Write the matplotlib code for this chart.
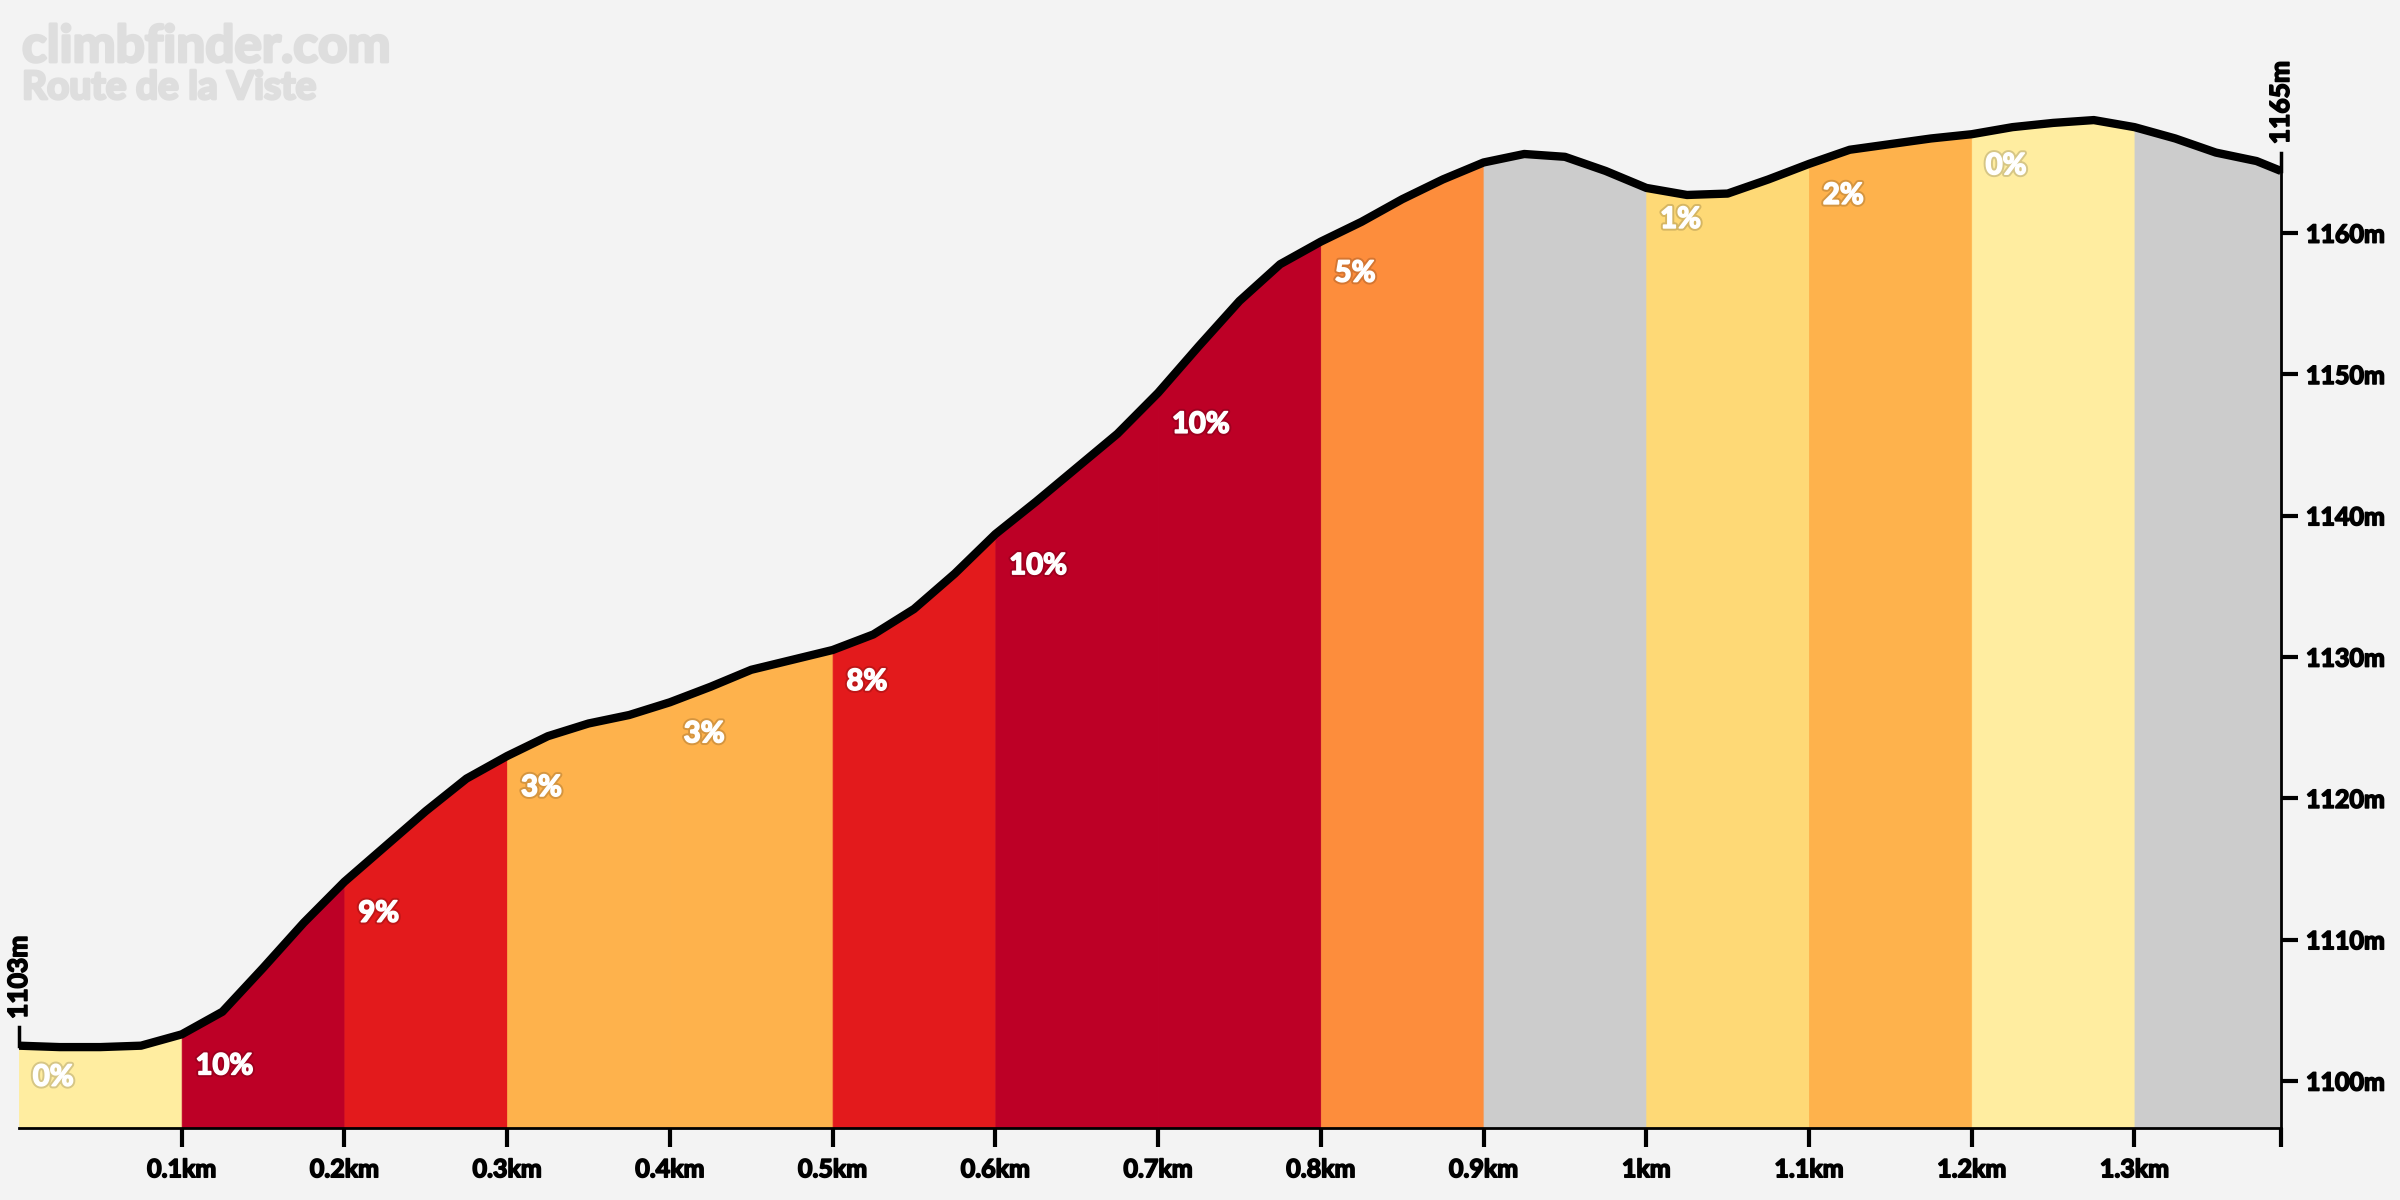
import numpy as np
import matplotlib
matplotlib.use("Agg")
import matplotlib.pyplot as plt
import matplotlib.patheffects as pe

# profile (km, m)
dist_km = [0, 0.025, 0.05, 0.075, 0.1, 0.125, 0.15, 0.175, 0.2, 0.225, 0.25, 0.275,
           0.3, 0.325, 0.35, 0.375, 0.4, 0.425, 0.45, 0.475, 0.5, 0.525, 0.55, 0.575,
           0.6, 0.625, 0.65, 0.675, 0.7, 0.725, 0.75, 0.775, 0.8, 0.825, 0.85, 0.875,
           0.9, 0.925, 0.95, 0.975, 1.0, 1.025, 1.05, 1.075, 1.1, 1.125, 1.15, 1.175,
           1.2, 1.225, 1.25, 1.275, 1.3, 1.325, 1.35, 1.375, 1.39]
elev_m = [1102.5, 1102.4, 1102.4, 1102.5, 1103.3, 1104.9, 1108.0, 1111.2, 1114.1, 1116.6,
          1119.1, 1121.4, 1123.0, 1124.4, 1125.3, 1125.9, 1126.8, 1127.9, 1129.1, 1129.8,
          1130.5, 1131.6, 1133.4, 1135.9, 1138.7, 1141.0, 1143.4, 1145.8, 1148.7, 1152.0,
          1155.2, 1157.8, 1159.4, 1160.8, 1162.4, 1163.8, 1165.0, 1165.6, 1165.4, 1164.4,
          1163.2, 1162.7, 1162.8, 1163.8, 1164.9, 1165.9, 1166.3, 1166.7, 1167.0, 1167.5,
          1167.8, 1168.0, 1167.5, 1166.7, 1165.7, 1165.1, 1164.4]

# 100 m sections and their gradient (%)
seg_start = [0.0, 0.1, 0.2, 0.3, 0.4, 0.5, 0.6, 0.7, 0.8, 0.9, 1.0, 1.1, 1.2, 1.3]
seg_end = [0.1, 0.2, 0.3, 0.4, 0.5, 0.6, 0.7, 0.8, 0.9, 1.0, 1.1, 1.2, 1.3, 1.39]
seg_grade = [0, 10, 9, 3, 3, 8, 10, 10, 5, -2, 1, 2, 0, -3]

xtick_pos = [0.1, 0.2, 0.3, 0.4, 0.5, 0.6, 0.7, 0.8, 0.9, 1.0, 1.1, 1.2, 1.3, 1.39]
xtick_lab = ["0.1km", "0.2km", "0.3km", "0.4km", "0.5km", "0.6km", "0.7km", "0.8km",
             "0.9km", "1km", "1.1km", "1.2km", "1.3km", ""]
ytick_pos = [1100, 1110, 1120, 1130, 1140, 1150, 1160]
ytick_lab = ["1100m", "1110m", "1120m", "1130m", "1140m", "1150m", "1160m"]

title = "climbfinder.com"
subtitle = "Route de la Viste"
start_label = "1103m"
end_label = "1165m"

def grade_color(g):
    if g < 0:
        return "#cccccc"
    if g < 1:
        return "#ffeda0"
    if g < 2:
        return "#fed976"
    if g < 4:
        return "#feb24c"
    if g < 6:
        return "#fd8d3c"
    if g < 8:
        return "#fc4e2a"
    if g < 10:
        return "#e31a1c"
    return "#bd0026"

def heavy(color, lw=1.2):
    # thicken the bold font a little, the original uses a black weight
    return [pe.Stroke(linewidth=lw, foreground=color), pe.Normal()]

plt.rcParams['font.family'] = ['Lato', 'DejaVu Sans']
bg = "#f3f3f3"
ymin, ymax = 1096.7, 1172.26

x = np.array(dist_km)
y = np.array(elev_m)

fig = plt.figure(figsize=(24, 12), dpi=100, facecolor=bg)
ax = fig.add_axes([0.0079, 0.0603, 0.9425, 0.8898])
ax.set_facecolor(bg)

for a, b, g in zip(seg_start, seg_end, seg_grade):
    m = (x >= a - 1e-9) & (x <= b + 1e-9)
    c = grade_color(g)
    ax.fill_between(x[m], ymin, y[m], color=c, lw=0.6, edgecolor=c, zorder=1)

ax.plot(x, y, color="black", lw=6, solid_joinstyle="round", solid_capstyle="butt", zorder=3)

# gradient labels
label_fx = [pe.Stroke(linewidth=4, foreground=(0, 0, 0, 0.16)),
            pe.Stroke(linewidth=1.2, foreground="white"), pe.Normal()]
for a, g in zip(seg_start, seg_grade):
    if g < 0:
        continue
    ya = np.interp(a, x, y)
    ax.annotate(f"{g}%", (a, ya), xytext=(10, -23), textcoords="offset points",
                ha="left", va="center", fontsize=21, fontweight="bold", color="white",
                path_effects=label_fx, zorder=4)

# start / end markers
for xe, ye, lab in [(x[0], y[0], start_label), (x[-1], y[-1], end_label)]:
    ax.plot([xe, xe], [ye, ye + 1.3], color="black", lw=2.5, clip_on=False, zorder=5)
    ax.annotate(lab, (xe, ye + 1.3), xytext=(0, 6), textcoords="offset points",
                rotation=90, ha="center", va="bottom", fontsize=19, fontweight="bold",
                color="black", annotation_clip=False, path_effects=heavy("black"))

ax.set_xlim(0, 1.39)
ax.set_ylim(ymin, ymax)
for s in ["top", "left"]:
    ax.spines[s].set_visible(False)
ax.spines["bottom"].set_linewidth(2)
ax.spines["right"].set_linewidth(2)
ax.spines["right"].set_bounds(ymin, y[-1])

ax.set_xticks(xtick_pos)
ax.set_xticklabels(xtick_lab, fontsize=18, fontweight="bold")
ax.tick_params(axis="x", length=14, width=3, pad=8, color="black")
ax.yaxis.tick_right()
ax.set_yticks(ytick_pos)
ax.set_yticklabels(ytick_lab, fontsize=18, fontweight="bold")
ax.tick_params(axis="y", length=12, width=3, pad=6, color="black")
for t in ax.get_xticklabels() + ax.get_yticklabels():
    t.set_path_effects(heavy("black"))

fig.text(22 / 2400, 1 - 62 / 1200, title, fontsize=37, fontweight="bold",
         color="#dedede", va="baseline", ha="left", path_effects=heavy("#dedede", 2))
fig.text(22 / 2400, 1 - 99 / 1200, subtitle, fontsize=28, fontweight="bold",
         color="#dedede", va="baseline", ha="left", path_effects=heavy("#dedede", 2))

fig.savefig("out.png", dpi=100, facecolor=bg)
